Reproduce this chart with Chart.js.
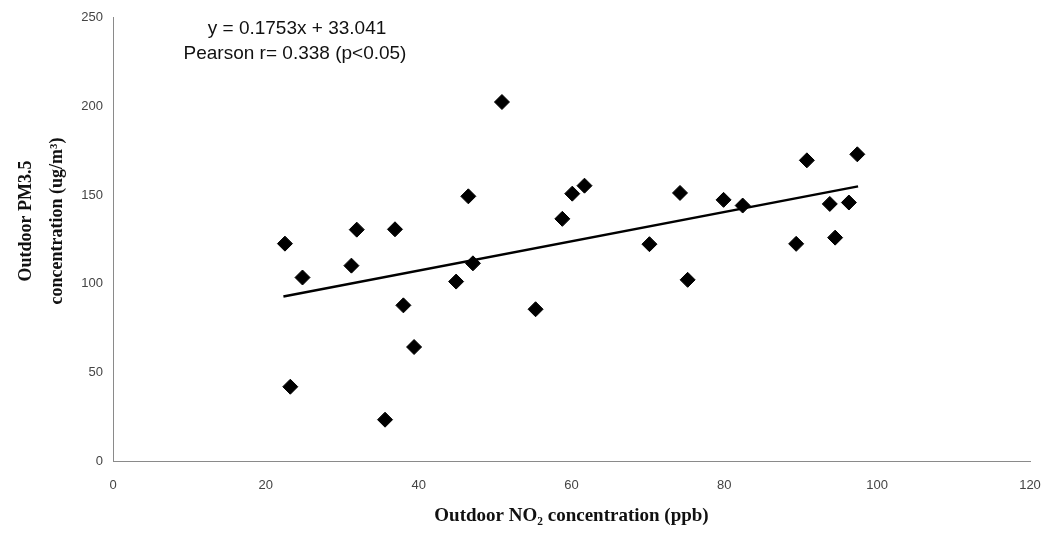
<!DOCTYPE html>
<html>
<head>
<meta charset="utf-8">
<title>Outdoor NO2 vs PM3.5</title>
<script src="https://cdn.jsdelivr.net/npm/chart.js@4.4.1/dist/chart.umd.min.js"></script>
<style>
  html, body { margin: 0; padding: 0; background: #fff; }
  #wrap { width: 1051px; height: 533px; position: relative; }
</style>
</head>
<body>
<div id="wrap"><canvas id="chart"></canvas></div>
<script>
// values
const no2 = [22.5, 24.8, 23.2, 31.9, 31.2, 36.9, 38.0, 39.4, 35.6, 46.5, 44.9, 47.1, 50.9, 55.3,
  58.8, 60.1, 61.7, 70.2, 74.2, 75.2, 79.9, 82.4, 89.4, 90.8, 93.8, 94.5, 96.3, 97.4];
const pm = [122.6, 103.5, 41.9, 130.5, 110.2, 130.7, 87.8, 64.3, 23.3, 149.3, 101.2, 111.5, 202.5, 85.6,
  136.6, 150.8, 155.3, 122.3, 151.2, 102.2, 147.3, 144.1, 122.5, 169.6, 145.0, 126.0, 145.8, 173.0];

// trend line end points as drawn in the figure
const trendX = [22.3, 97.5];
const trendY = [92.8, 154.9];

const xTicks = [0, 20, 40, 60, 80, 100, 120];
const yTicks = [0, 50, 100, 150, 200, 250];

const equationLines = ["y = 0.1753x + 33.041", "Pearson r= 0.338 (p<0.05)"];
const yTitleLines = ["Outdoor PM3.5", "concentration (ug/m\u00B3)"];
const xTitle = "Outdoor NO\u2082 concentration (ppb)";

const points = no2.map((x, i) => ({ x: x, y: pm[i] }));
const trend = trendX.map((x, i) => ({ x: x, y: trendY[i] }));

// draws the equation box text and the two-line y title
const textPlugin = {
  id: "extraText",
  afterDraw: (chart) => {
    const c = chart.ctx;
    const area = chart.chartArea;
    c.save();
    c.fillStyle = "#111";
    c.textAlign = "center";
    c.textBaseline = "middle";
    c.font = "19px 'Liberation Sans', Arial, sans-serif";
    c.fillText(equationLines[0], area.left + 184, area.top + 11);
    c.fillText(equationLines[1], area.left + 182, area.top + 36);

    c.font = "bold 18px 'Liberation Serif', 'Times New Roman', serif";
    c.translate(0, 221);
    c.rotate(-Math.PI / 2);
    c.fillText(yTitleLines[0], 0, 26);
    c.fillText(yTitleLines[1], 0, 57);
    c.restore();
  }
};

const tickFont = { family: "'Liberation Sans', Arial, sans-serif", size: 13 };

new Chart(document.getElementById("chart"), {
  type: "scatter",
  data: {
    datasets: [
      {
        label: "data",
        data: points,
        pointStyle: "rectRot",
        pointRadius: 7.5,
        backgroundColor: "#000",
        borderColor: "#000",
        borderWidth: 1
      },
      {
        type: "line",
        label: "trend",
        data: trend,
        borderColor: "#000",
        borderWidth: 2.5,
        pointRadius: 0,
        fill: false
      }
    ]
  },
  options: {
    responsive: true,
    maintainAspectRatio: false,
    animation: false,
    layout: { padding: { top: 14, right: 21, left: 0, bottom: 0 } },
    plugins: {
      legend: { display: false },
      tooltip: { enabled: false }
    },
    scales: {
      x: {
        type: "linear",
        min: 0,
        max: 120,
        afterBuildTicks: (axis) => { axis.ticks = xTicks.map(v => ({ value: v })); },
        afterFit: (axis) => {
          axis.height = 72;
          // tick padding would otherwise widen the right margin
          axis.paddingLeft = 0;
          axis.paddingRight = 0;
        },
        grid: { display: false, drawTicks: false },
        border: { display: true, color: "#8a8a8a", width: 1 },
        ticks: { color: "#444", font: tickFont, padding: 17 },
        title: {
          display: true,
          text: xTitle,
          color: "#111",
          font: { family: "'Liberation Serif', 'Times New Roman', serif", size: 19, weight: "bold" },
          padding: { top: 0, bottom: 6 }
        }
      },
      y: {
        type: "linear",
        min: 0,
        max: 250,
        afterBuildTicks: (axis) => { axis.ticks = yTicks.map(v => ({ value: v })); },
        afterFit: (axis) => { axis.width = 113; },
        grid: { display: false, drawTicks: false },
        border: { display: true, color: "#8a8a8a", width: 1 },
        ticks: { color: "#444", font: tickFont, padding: 10 }
      }
    }
  },
  plugins: [textPlugin]
});
</script>
</body>
</html>
